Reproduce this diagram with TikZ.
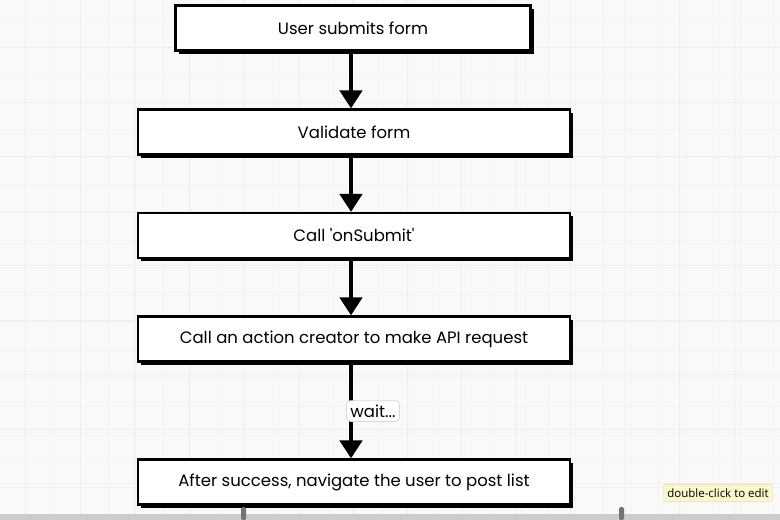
\documentclass[tikz,border=0pt]{standalone}
\usepackage{fontspec}
\setmainfont{Poppins}
\setsansfont{Open Sans}
\usetikzlibrary{arrows.meta,shadows}

\definecolor{canvas}{HTML}{F9F9F9}
\definecolor{gridmajor}{HTML}{EEEEEE}
\definecolor{gridminor}{HTML}{F4F4F4}
\definecolor{tipfill}{HTML}{FAF7CC}
\definecolor{tipline}{HTML}{E2DDA8}

\tikzset{
  stepbox/.style={draw, line width=2.2pt, fill=white, minimum height=45pt,
    minimum width=432pt, font=\fontsize{16.5}{19}\selectfont,
    drop shadow={shadow xshift=3pt, shadow yshift=-3pt, fill=black, opacity=1}},
  flow/.style={line width=4.5pt, -{Triangle[width=22pt,length=18pt]}},
  waitlabel/.style={draw=black!15, line width=0.8pt, fill=white, rounded corners=4pt,
    inner xsep=4pt, inner ysep=4pt, font=\fontsize{16.5}{19}\selectfont},
  tooltip/.style={draw=tipline, fill=tipfill, rounded corners=2pt, inner xsep=4pt,
    inner ysep=4pt, font=\sffamily\fontsize{11.5}{13}\selectfont}
}

\begin{document}
\begin{tikzpicture}[x=1pt, y=1pt]
    \useasboundingbox (0,0) rectangle (780,-520);
    \fill[canvas] (0,0) rectangle (780,-520);

    % grid
    \foreach \x in {-2,25.5,...,780}
        \draw[gridminor, line width=0.8pt] (\x,0) -- (\x,-520);
    \foreach \y in {-20,-47.5,...,-520}
        \draw[gridminor, line width=0.8pt] (0,\y) -- (780,\y);
    \foreach \x in {25.5,80,...,780}
        \draw[gridmajor, line width=1pt] (\x,0) -- (\x,-520);
    \foreach \y in {-47.5,-102,...,-520}
        \draw[gridmajor, line width=1pt] (0,\y) -- (780,\y);

    % steps
    \node[stepbox, minimum width=355pt] (submit) at (353,-28) {User submits form};
    \node[stepbox] (validate) at (354,-132) {Validate form};
    \node[stepbox] (onsubmit) at (354,-235.5) {Call \textquotesingle onSubmit\textquotesingle};
    \node[stepbox] (action) at (354,-339) {Call an action creator to make API request};
    \node[stepbox] (success) at (354,-482) {After success, navigate the user to post list};

    \draw[flow] (submit.south -| 351,0) -- (validate.north -| 351,0);
    \draw[flow] (validate.south -| 351,0) -- (onsubmit.north -| 351,0);
    \draw[flow] (onsubmit.south -| 351,0) -- (action.north -| 351,0);
    \draw[flow] (action.south -| 351,0) -- (success.north -| 351,0);

    \node[waitlabel] (wait) at (373,-411) {wait...};

    % editor overlay
    \node[tooltip] (tip) at (718,-493) {double-click to edit};
    \fill[black!20] (0,-514) rectangle (780,-520);
    \fill[black!55, rounded corners=1.5pt] (241,-507) rectangle (246,-520);
    \fill[black!55, rounded corners=1.5pt] (619,-507) rectangle (624,-520);
\end{tikzpicture}
\end{document}
